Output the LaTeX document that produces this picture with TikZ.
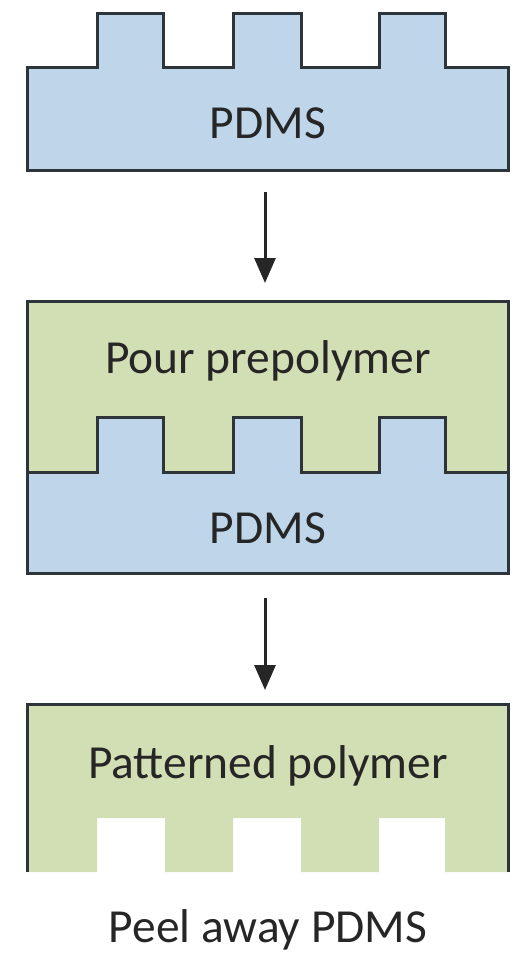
\documentclass[tikz,border=0pt]{standalone}
\usepackage{fontspec}
\setmainfont{Carlito}
\usetikzlibrary{arrows.meta}

\definecolor{pdmsblue}{RGB}{190,213,234}
\definecolor{polygreen}{RGB}{210,222,180}
\definecolor{edgegray}{RGB}{45,52,58}

\tikzset{
  outline/.style={draw=edgegray, line width=0.06cm, line join=miter},
  lbl/.style={anchor=base, inner sep=0pt, text=black!85,
              font=\fontsize{27}{32}\selectfont},
  steparrow/.style={line width=0.06cm, draw=black!85,
                    -{Triangle[width=0.42cm,length=0.5cm]}}
}

\begin{document}
\begin{tikzpicture}[x=0.02cm, y=-0.02cm]
\useasboundingbox (0,0) rectangle (514,956);

% PDMS stamp
\fill[pdmsblue] (27,171) -- (27,68) -- (97,68) -- (97,14) -- (163,14) -- (163,68)
  -- (233,68) -- (233,14) -- (301,14) -- (301,68) -- (379,68) -- (379,14)
  -- (445,14) -- (445,68) -- (508,68) -- (508,171) -- cycle;
\draw[outline] (27,171) -- (27,68) -- (97,68) -- (97,14) -- (163,14) -- (163,68)
  -- (233,68) -- (233,14) -- (301,14) -- (301,68) -- (379,68) -- (379,14)
  -- (445,14) -- (445,68) -- (508,68) -- (508,171) -- cycle;
\node[lbl] (stamp) at (268,139) {PDMS};

% prepolymer poured on the stamp
\fill[polygreen] (27,301) rectangle (508,573);
\fill[pdmsblue] (27,573) -- (27,472) -- (97,472) -- (97,417) -- (163,417) -- (163,472)
  -- (233,472) -- (233,417) -- (301,417) -- (301,472) -- (379,472) -- (379,417)
  -- (445,417) -- (445,472) -- (508,472) -- (508,573) -- cycle;
\draw[outline] (27,472) -- (97,472) -- (97,417) -- (163,417) -- (163,472)
  -- (233,472) -- (233,417) -- (301,417) -- (301,472) -- (379,472) -- (379,417)
  -- (445,417) -- (445,472) -- (508,472);
\draw[outline] (27,301) rectangle (508,573);
\node[lbl] (pour) at (268,373) {Pour prepolymer};
\node[lbl] (stampB) at (268,543) {PDMS};

% patterned polymer
\fill[polygreen] (27,872) -- (27,704) -- (508,704) -- (508,872) -- (445,872) -- (445,818)
  -- (379,818) -- (379,872) -- (301,872) -- (301,818) -- (233,818) -- (233,872)
  -- (165,872) -- (165,818) -- (97,818) -- (97,872) -- cycle;
\draw[outline] (27,872) -- (27,704) -- (508,704) -- (508,872);
\node[lbl] (pattern) at (268,778) {Patterned polymer};
\node[lbl] (peel) at (268,942) {Peel away PDMS};

% arrows
\coordinate (arrAfrom) at (265,192);
\coordinate (arrAto) at (265,283);
\coordinate (arrBfrom) at (265,598);
\coordinate (arrBto) at (265,690);
\draw[steparrow] (arrAfrom) -- (arrAto);
\draw[steparrow] (arrBfrom) -- (arrBto);

\end{tikzpicture}
\end{document}
